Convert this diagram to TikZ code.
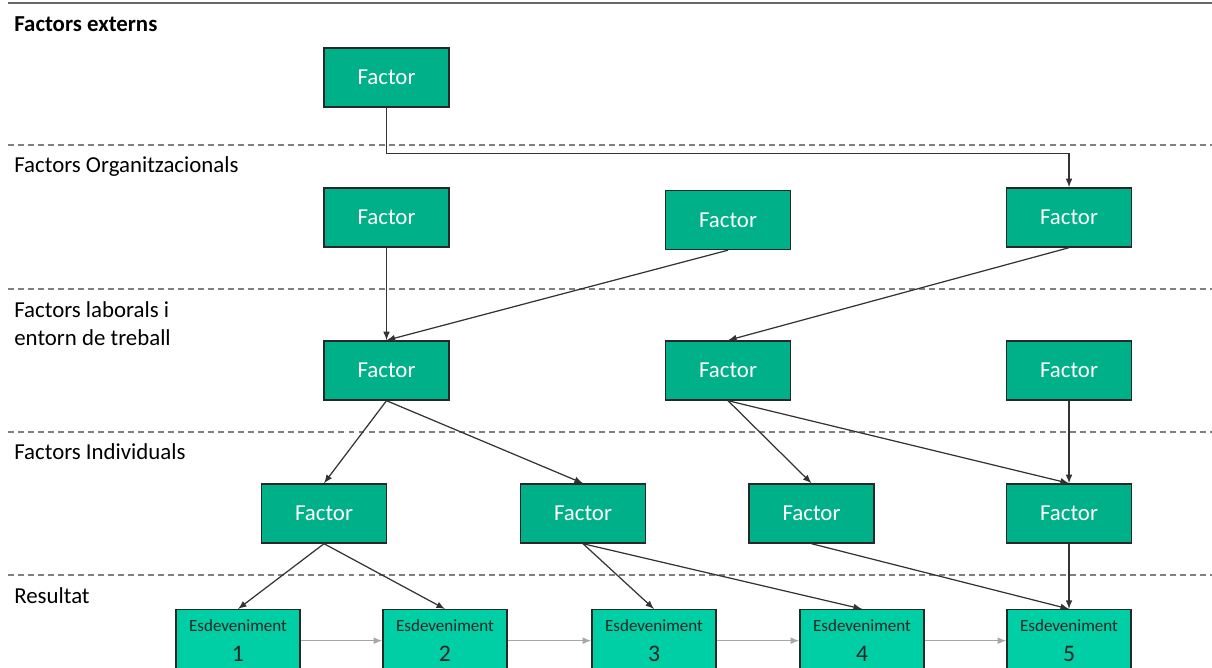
\documentclass[tikz,border=0pt]{standalone}
\usepackage{fontspec}
\setmainfont{Carlito}
\usetikzlibrary{calc}
\definecolor{factorgreen}{RGB}{0,176,136}
\definecolor{eventgreen}{RGB}{0,206,164}
\definecolor{boxline}{RGB}{40,40,40}
\definecolor{linegray}{RGB}{128,128,128}

\begin{document}
\begin{tikzpicture}[x=0.02cm,y=-0.02cm,
  factor/.style={draw=boxline,line width=0.8pt,fill=factorgreen,text=white,minimum width=2.5cm,minimum height=1.18cm,inner sep=0pt,font=\fontsize{13}{15}\selectfont},
  event/.style={draw=boxline,line width=0.8pt,fill=eventgreen,text=black!85,minimum width=2.48cm,minimum height=1.24cm,inner sep=0pt,align=center,anchor=north},
  lbl/.style={anchor=west,inner sep=0pt,align=left,font=\fontsize{13}{16}\selectfont},
  conn/.style={draw=black!80,line width=0.7pt,-latex},
  flow/.style={draw=black!35,line width=0.7pt,-latex},
  sep/.style={draw=linegray,line width=1.1pt,dash pattern=on 3.4pt off 2.3pt}]
\useasboundingbox (0,0) rectangle (1212,668);
% lanes
\draw[linegray!80!black,line width=1.1pt] (8,3)--(1212,3);
\draw[sep] (8,145)--(1212,145);
\draw[sep] (8,289)--(1212,289);
\draw[sep] (8,432)--(1212,432);
\draw[sep] (8,575)--(1212,575);
\node[lbl,font=\fontsize{13}{16}\selectfont\bfseries] (l0) at (14,24) {Factors externs};
\node[lbl] (l1) at (14,167) {Factors Organitzacionals};
\node[lbl] (l2) at (14,324) {Factors laborals i\\entorn de treball};
\node[lbl] (l3) at (14,452) {Factors Individuals};
\node[lbl] (l4) at (14,596) {Resultat};
% factors
\node[factor] (ext) at (386.5,77.5) {Factor};
\node[factor] (org1) at (386.5,217.5) {Factor};
\node[factor] (org2) at (728,220) {Factor};
\node[factor] (org3) at (1069,217.5) {Factor};
\node[factor] (lab1) at (386.5,370.5) {Factor};
\node[factor] (lab2) at (728,370.5) {Factor};
\node[factor] (lab3) at (1069,370.5) {Factor};
\node[factor] (ind1) at (324,513.5) {Factor};
\node[factor] (ind2) at (583,513.5) {Factor};
\node[factor] (ind3) at (811.5,513.5) {Factor};
\node[factor] (ind4) at (1069,513.5) {Factor};
% results
\node[event] (e1) at (238,609) {\fontsize{9.7}{11}\selectfont Esdeveniment\\[5pt]\fontsize{13.5}{14}\selectfont 1};
\node[event] (e2) at (445,609) {\fontsize{9.7}{11}\selectfont Esdeveniment\\[5pt]\fontsize{13.5}{14}\selectfont 2};
\node[event] (e3) at (654,609) {\fontsize{9.7}{11}\selectfont Esdeveniment\\[5pt]\fontsize{13.5}{14}\selectfont 3};
\node[event] (e4) at (862,609) {\fontsize{9.7}{11}\selectfont Esdeveniment\\[5pt]\fontsize{13.5}{14}\selectfont 4};
\node[event] (e5) at (1069,609) {\fontsize{9.7}{11}\selectfont Esdeveniment\\[5pt]\fontsize{13.5}{14}\selectfont 5};
% links
\draw[conn] (ext.south)--++(0,46)-|(org3.north);
\draw[conn] (org1.south)--(lab1.north);
\draw[conn] (org2.south)--(lab1.north);
\draw[conn] (org3.south)--(lab2.north);
\draw[conn] (lab1.south)--(ind1.north);
\draw[conn] (lab1.south)--(ind2.north);
\draw[conn] (lab2.south)--(ind3.north);
\draw[conn] (lab2.south)--(ind4.north);
\draw[conn] (lab3.south)--(ind4.north);
\draw[conn] (ind1.south)--(e1.north);
\draw[conn] (ind1.south)--(e2.north);
\draw[conn] (ind2.south)--(e3.north);
\draw[conn] (ind2.south)--(e4.north);
\draw[conn] (ind3.south)--(e5.north);
\draw[conn] (ind4.south)--(e5.north);
\draw[flow] (e1.east)--(e2.west);
\draw[flow] (e2.east)--(e3.west);
\draw[flow] (e3.east)--(e4.west);
\draw[flow] (e4.east)--(e5.west);
\end{tikzpicture}
\end{document}
